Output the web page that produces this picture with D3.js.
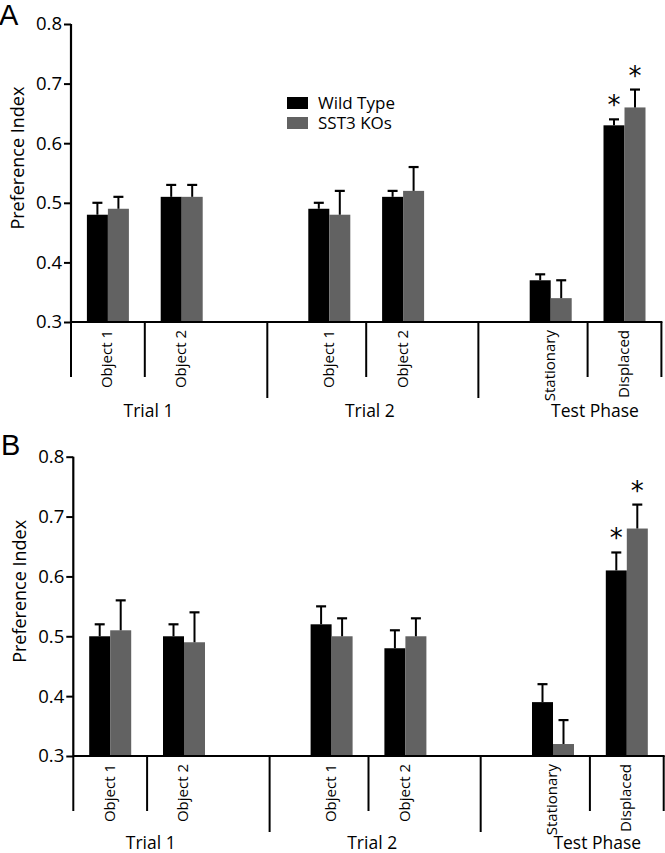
<!DOCTYPE html>
<html><head><meta charset="utf-8">
<script src="https://cdn.jsdelivr.net/npm/d3@7"></script>
<style>
body{margin:0;background:#fff;}
svg text{font-family:"Open Sans","DejaVu Sans",sans-serif;fill:#000;}
</style></head>
<body><svg id="c" width="665" height="853"></svg>
<script>
// ---- data ----
const series = ["Wild Type", "SST3 KOs"];
const colors = ["#000000", "#626262"];
const categories = ["Object 1", "Object 2", "Object 1", "Object 2", "Stationary", "Displaced"];
const groups = ["Trial 1", "Trial 2", "Test Phase"];
const yTicks = [0.3, 0.4, 0.5, 0.6, 0.7, 0.8];

const panelA_wt    = [0.48, 0.51, 0.49, 0.51, 0.37, 0.63];
const panelA_wtErr = [0.02, 0.02, 0.01, 0.01, 0.01, 0.01];
const panelA_ko    = [0.49, 0.51, 0.48, 0.52, 0.34, 0.66];
const panelA_koErr = [0.02, 0.02, 0.04, 0.04, 0.03, 0.03];

const panelB_wt    = [0.50, 0.50, 0.52, 0.48, 0.39, 0.61];
const panelB_wtErr = [0.02, 0.02, 0.03, 0.03, 0.03, 0.03];
const panelB_ko    = [0.51, 0.49, 0.50, 0.50, 0.32, 0.68];
const panelB_koErr = [0.05, 0.05, 0.03, 0.03, 0.04, 0.04];

// significance markers: [categoryIndex, seriesIndex]
const sigA = [[5,0],[5,1]];
const sigB = [[5,0],[5,1]];

// ---- layout (slot units along x) ----
const catSlot = [0.5, 1.5, 3.5, 4.5, 6.5, 7.5];
const shortDiv = [0, 1, 4, 7, 8];
const longDiv = [2.66, 5.52];
const groupSlot = [1.05, 4.05, 7.1];

const svg = d3.select("#c");

function drawPanel(opt){
  const {letter, letterX, letterY, axisX, yTop, yBot, groupDy, wt, wtErr, ko, koErr, sig, legend} = opt;
  const y = d3.scaleLinear().domain([0.3, 0.8]).range([yBot, yTop]);
  const x = d3.scaleLinear().domain([0, 8]).range([axisX, axisX + 8*73.8]);
  const bw = 21;
  const g = svg.append("g");

  // panel letter
  g.append("text").attr("x", letterX).attr("y", letterY)
    .style("font-family", "'Liberation Sans', Arial, sans-serif")
    .attr("font-size", 29).text(letter);

  // bars
  const vals = [wt, ko], errs = [wtErr, koErr];
  series.forEach((s, si) => {
    const data = categories.map((c, i) => ({i, v: vals[si][i], e: errs[si][i]}));
    const off = si === 0 ? -bw : 0;
    g.selectAll(null).data(data).enter().append("rect")
      .attr("x", d => x(catSlot[d.i]) + off)
      .attr("width", bw)
      .attr("y", d => y(d.v))
      .attr("height", d => y(0.3) - y(d.v))
      .attr("fill", colors[si]);
    // error bars (upward)
    g.selectAll(null).data(data).enter().append("line")
      .attr("x1", d => x(catSlot[d.i]) + off + bw/2)
      .attr("x2", d => x(catSlot[d.i]) + off + bw/2)
      .attr("y1", d => y(d.v)).attr("y2", d => y(d.v + d.e))
      .attr("stroke", "#000").attr("stroke-width", 2);
    g.selectAll(null).data(data).enter().append("line")
      .attr("x1", d => x(catSlot[d.i]) + off + bw/2 - 5)
      .attr("x2", d => x(catSlot[d.i]) + off + bw/2 + 5)
      .attr("y1", d => y(d.v + d.e)).attr("y2", d => y(d.v + d.e))
      .attr("stroke", "#000").attr("stroke-width", 2.2);
  });

  // asterisks
  g.selectAll(null).data(sig).enter().append("text")
    .attr("x", d => x(catSlot[d[0]]) + (d[1] === 0 ? -bw/2 : bw/2))
    .attr("y", d => { const v = [wt, ko][d[1]][d[0]] + [wtErr, koErr][d[1]][d[0]]; return y(v) - 5; })
    .attr("text-anchor", "middle")
    .style("font-family", "'DejaVu Sans', sans-serif")
    .attr("font-size", 26).text("*");

  // y axis
  const yAxis = d3.axisLeft(y).tickValues(yTicks).tickFormat(d3.format(".1f")).tickSize(7).tickSizeOuter(0).tickPadding(2);
  const ya = g.append("g").attr("transform", `translate(${axisX},0)`).call(yAxis);
  ya.select(".domain").attr("stroke-width", 2.2).attr("d", `M0,${yBot}V${yTop}`);
  ya.selectAll(".tick line").attr("stroke-width", 2);
  ya.selectAll(".tick text").attr("font-size", 18.5).style("font-family", "'Open Sans',sans-serif");

  // y label
  g.append("text")
    .attr("transform", `translate(${axisX - 47},${y(0.575)}) rotate(-90)`)
    .attr("text-anchor", "middle").attr("font-size", 18).text("Preference Index");

  // x baseline
  g.append("line").attr("x1", axisX).attr("x2", x(8) + 1)
    .attr("y1", yBot).attr("y2", yBot).attr("stroke", "#000").attr("stroke-width", 2.2);

  // dividers
  g.selectAll(null).data(shortDiv).enter().append("line")
    .attr("x1", d => x(d)).attr("x2", d => x(d))
    .attr("y1", yBot).attr("y2", yBot + 55)
    .attr("stroke", "#000").attr("stroke-width", 2);
  g.selectAll(null).data(longDiv).enter().append("line")
    .attr("x1", d => x(d)).attr("x2", d => x(d))
    .attr("y1", yBot).attr("y2", yBot + 76)
    .attr("stroke", "#000").attr("stroke-width", 2);

  // category labels (rotated)
  g.selectAll(null).data(categories).enter().append("text")
    .attr("transform", (d, i) => `translate(${x(catSlot[i]) - 1},${yBot + 8}) rotate(-90)`)
    .attr("text-anchor", "end").attr("dy", "0.36em")
    .attr("font-size", 15).text(d => d);

  // group labels
  g.selectAll(null).data(groups).enter().append("text")
    .attr("x", (d, i) => x(groupSlot[i])).attr("y", yBot + groupDy)
    .attr("text-anchor", "middle").attr("font-size", 17.5).text(d => d);

  // legend
  if (legend) {
    const lg = g.append("g").attr("transform", `translate(${legend[0]},${legend[1]})`);
    series.forEach((s, si) => {
      lg.append("rect").attr("x", 0).attr("y", si*20).attr("width", 21).attr("height", 12).attr("fill", colors[si]);
      lg.append("text").attr("x", 31).attr("y", si*20 + 6).attr("dy", "0.36em").attr("font-size", 17).text(s);
    });
  }
}

drawPanel({letter: "A", letterX: -1, letterY: 25, axisX: 71, yTop: 24, yBot: 322, groupDy: 95,
  wt: panelA_wt, wtErr: panelA_wtErr, ko: panelA_ko, koErr: panelA_koErr, sig: sigA, legend: [287, 97]});
drawPanel({letter: "B", letterX: 1, letterY: 455, axisX: 73.3, yTop: 456.7, yBot: 756, groupDy: 93,
  wt: panelB_wt, wtErr: panelB_wtErr, ko: panelB_ko, koErr: panelB_koErr, sig: sigB, legend: null});
</script></body></html>
